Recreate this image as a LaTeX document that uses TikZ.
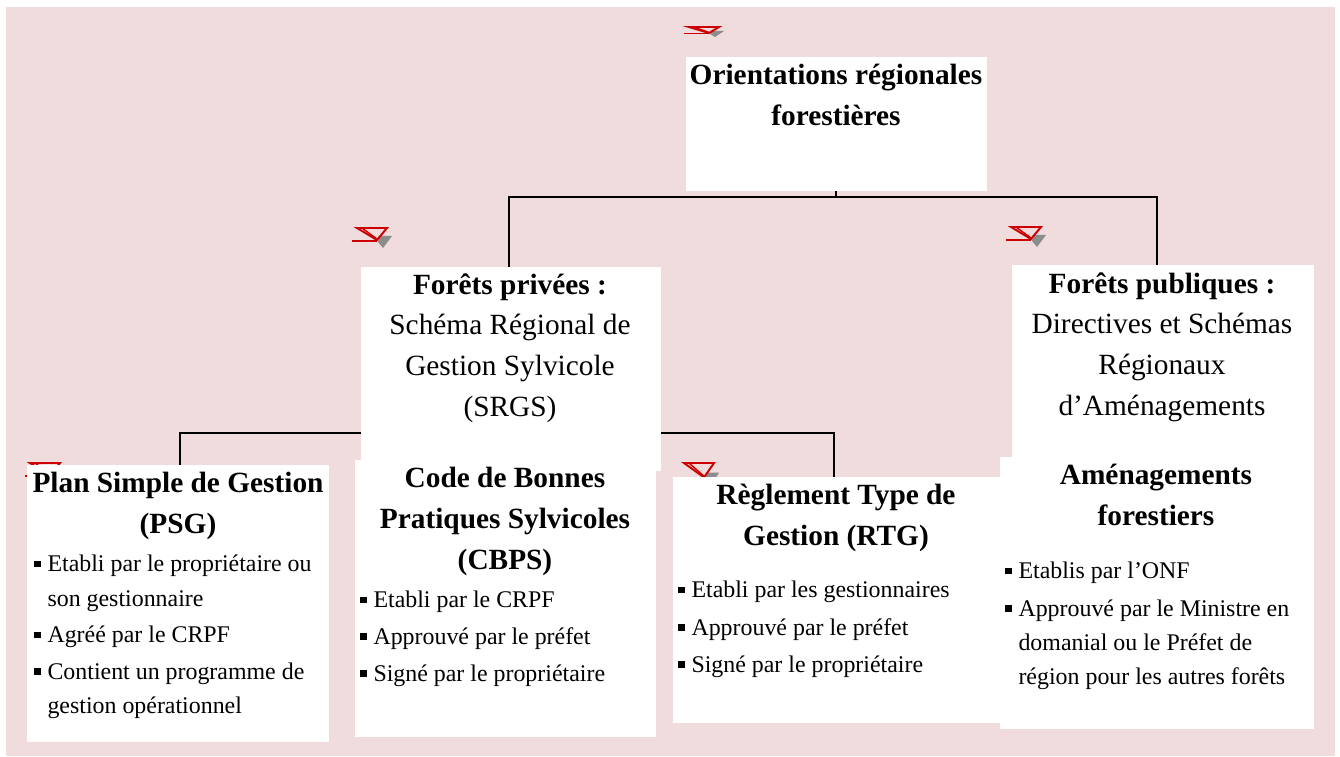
\documentclass[tikz,border=0pt]{standalone}
\usepackage{fontspec}
\setmainfont{Liberation Serif}
\usepackage{xcolor}
\usetikzlibrary{positioning}

\definecolor{fondrose}{RGB}{240,220,220}
\definecolor{rougeicone}{RGB}{204,0,0}
\definecolor{gristombe}{RGB}{140,140,140}

% petite puce carree
\newcommand{\puce}{\makebox[7.5pt][l]{\rule[2.6pt]{3.8pt}{3.8pt}}}
\newcommand{\retrait}{\hspace*{7.5pt}}

% icone rouge (triangle) avec son ombre grise
\newcommand{\repere}[3]{%
  \begin{scope}[shift={(#1,#2)}, yscale=#3]
    \fill[gristombe] (22,8) -- (35,8) -- (26,20) -- (21,14) -- cycle;
    \draw[rougeicone, line width=1.1pt] (0,0) -- (30,0) -- (20,12) -- cycle;
    \draw[rougeicone, line width=0.8pt] (5,0) -- (20,11);
    \draw[rougeicone, line width=1.1pt] (-5,13) -- (20,13);
  \end{scope}}

\begin{document}
\begin{tikzpicture}[
        x=0.02cm, y=-0.02cm,
        bloc/.style={fill=white, draw=none, inner sep=0pt, anchor=north west},
        titre/.style={font=\fontsize{16.7}{23.3}\selectfont\bfseries, align=center, anchor=north, inner sep=0pt},
        texte/.style={font=\fontsize{16.7}{23.3}\selectfont, align=center, anchor=north, inner sep=0pt},
        puces/.style={font=\fontsize{13.6}{19.4}\selectfont, align=left, anchor=north west, inner sep=0pt},
        lien/.style={draw=black, line width=1pt}
    ]
        \useasboundingbox (0,0) rectangle (1340,757);
        \fill[fondrose] (6,7) rectangle (1335,756);

        % Icones
        \repere{689}{27}{0.5}
        \repere{357}{228}{1}
        \repere{1011}{227}{1}
        \repere{30}{463}{1}
        \repere{684}{463}{1.2}

        % Blocs
        \node[bloc, minimum width=6cm, minimum height=2.66cm] (orient) at (686,57) {};
        \node[bloc, minimum width=5.98cm, minimum height=4.06cm] (privees) at (361,267) {};
        \node[bloc, minimum width=6.02cm, minimum height=3.9cm] (publiques) at (1012,265) {};
        \node[bloc, minimum width=6.02cm, minimum height=5.52cm] (psg) at (27,465) {};
        \node[bloc, minimum width=6cm, minimum height=5.52cm] (cbps) at (355,460) {};
        \node[bloc, minimum width=6.54cm, minimum height=4.9cm] (rtg) at (673,477) {};
        \node[bloc, minimum width=6.26cm, minimum height=5.42cm] (amen) at (1000,457) {};

        % Liens
        \draw[lien] (orient.south) -- ++(0,6) coordinate (bus1);
        \draw[lien] (bus1) -| ([xshift=-0.03cm]privees.north);
        \draw[lien] (bus1) -| ([xshift=-0.11cm]publiques.north);
        \draw[lien] ([xshift=0.05cm]psg.north) -- ([xshift=0.05cm]psg.north |- 0,433) coordinate (bus2)
            -| ([xshift=-0.05cm]rtg.north);

        % on repeint les blocs par-dessus les liens
        \foreach \b in {orient,privees,publiques,psg,cbps,rtg,amen}
            \fill[white] (\b.north west) rectangle (\b.south east);

        % Textes
        \node[titre] (t-orient) at (836,64) {Orientations régionales\\forestières};
        \node[texte] (t-privees) at (510,273) {\textbf{Forêts privées :}\\Schéma Régional de\\Gestion Sylvicole\\(SRGS)};
        \node[texte] (t-publiques) at (1162,272) {\textbf{Forêts publiques :}\\Directives et Schémas\\Régionaux\\d’Aménagements};
        \node[titre] (t-psg) at (178,472) {Plan Simple de Gestion\\(PSG)};
        \node[titre] (t-cbps) at (505,467) {Code de Bonnes\\Pratiques Sylvicoles\\(CBPS)};
        \node[titre] (t-rtg) at (836,484) {Règlement Type de\\Gestion (RTG)};
        \node[titre] (t-amen) at (1156,464) {Aménagements\\forestiers};

        \node[puces] (p-psg) at (34,555) {\puce Etabli par le propriétaire ou\\\retrait son gestionnaire\\[1.5pt]
            \puce Agréé par le CRPF\\[1.5pt]\puce Contient un programme de\\\retrait gestion opérationnel};
        \node[puces] (p-cbps) at (360,591) {\puce Etabli par le CRPF\\[1.5pt]\puce Approuvé par le préfet\\[1.5pt]
            \puce Signé par le propriétaire};
        \node[puces] (p-rtg) at (678,581) {\puce Etabli par les gestionnaires\\[2pt]\puce Approuvé par le préfet\\[1.5pt]
            \puce Signé par le propriétaire};
        \node[puces] (p-amen) at (1005,562) {\puce Etablis par l’ONF\\[2pt]\puce Approuvé par le Ministre en\\
            \retrait domanial ou le Préfet de\\\retrait région pour les autres forêts};
    \end{tikzpicture}
\end{document}
